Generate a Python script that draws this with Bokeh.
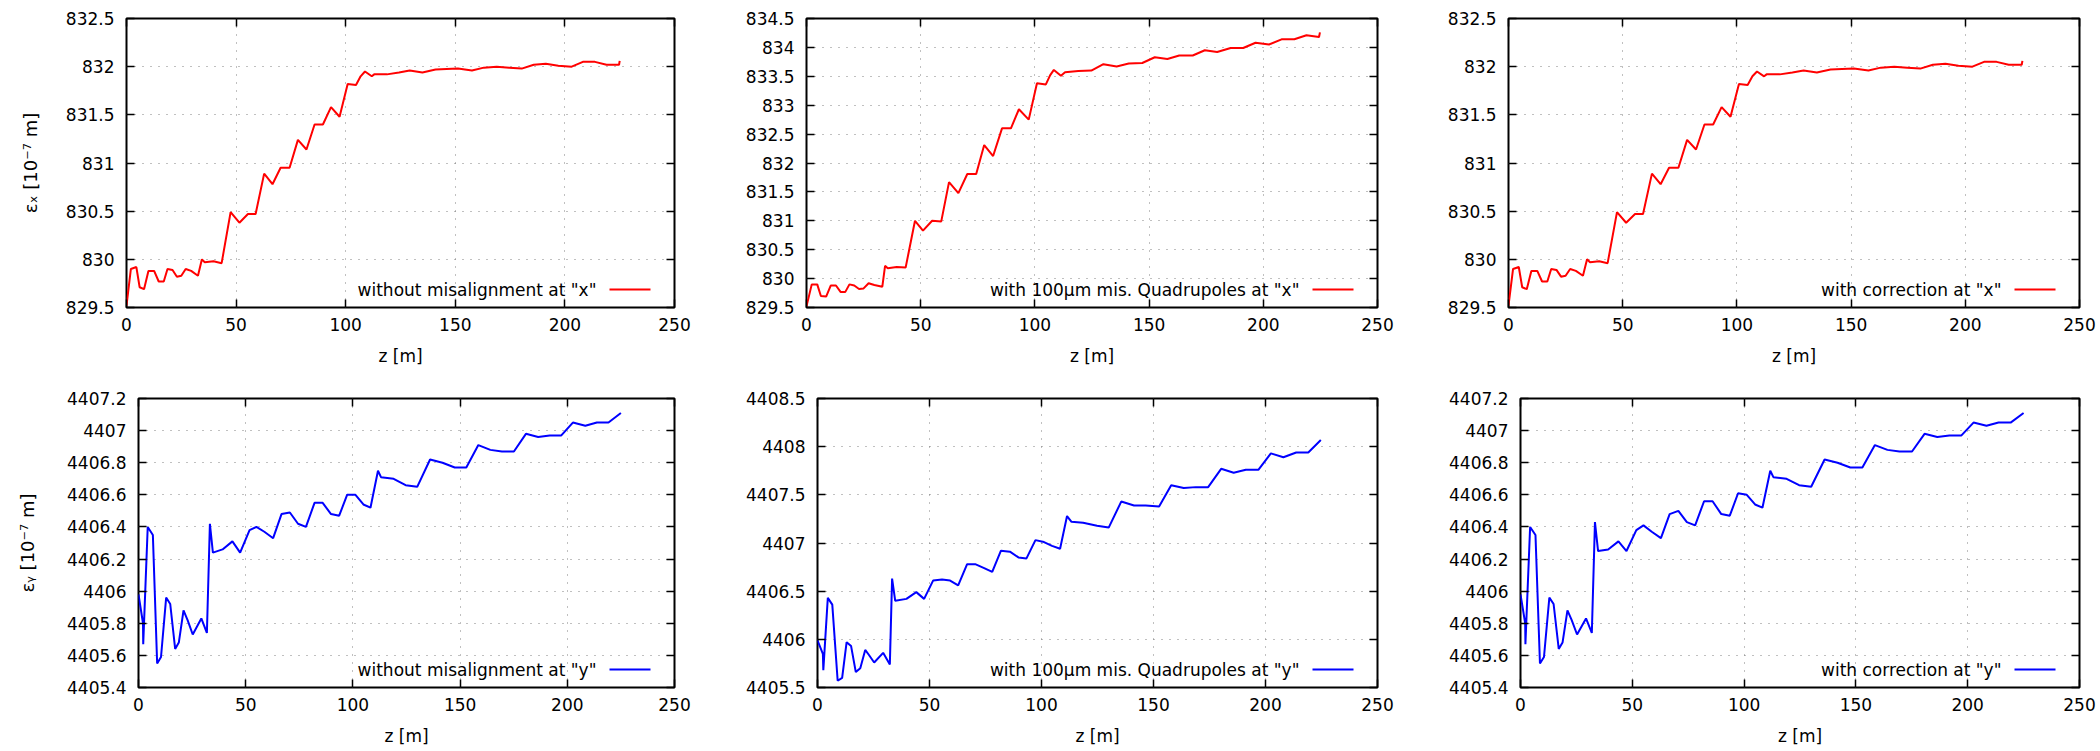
from bokeh.plotting import figure
from bokeh.layouts import row, column
from bokeh.models import (Range1d, LinearAxis, FixedTicker, CustomJSTickFormatter,
                          Label, Arrow)
from bokeh.embed import file_html
from bokeh.resources import INLINE

FONT = "DejaVu Sans"

# ---------------- ticks ----------------
x_ticks = [0, 50, 100, 150, 200, 250]
ex_ticks = [829.5, 830, 830.5, 831, 831.5, 832, 832.5]
ex_mis_ticks = [829.5, 830, 830.5, 831, 831.5, 832, 832.5, 833, 833.5, 834, 834.5]
ey_ticks = [4405.4, 4405.6, 4405.8, 4406, 4406.2, 4406.4, 4406.6, 4406.8, 4407, 4407.2]
ey_mis_ticks = [4405.5, 4406, 4406.5, 4407, 4407.5, 4408, 4408.5]

# ---------------- axis titles ----------------
x_title = "z [m]"
ylabel_ex = "\u03b5\u2093 [10\u207b\u2077 m]"
ylabel_ey = "\u03b5\u1d67 [10\u207b\u2077 m]"

# ---------------- legend texts ----------------
leg_ex_nomis = 'without misalignment at "x"'
leg_ex_mis = 'with 100\u03bcm mis. Quadrupoles at "x"'
leg_ex_corr = 'with correction at "x"'
leg_ey_nomis = 'without misalignment at "y"'
leg_ey_mis = 'with 100\u03bcm mis. Quadrupoles at "y"'
leg_ey_corr = 'with correction at "y"'

# ---------------- data: emittance x ----------------
z_ex = [0, 2, 4.5, 6, 8, 10, 12.6, 14.7, 17, 18.7, 21, 23, 25, 27, 29.5, 32.6, 34.4, 35.7,
        39.7, 43.4, 47.5, 51.5, 55.4, 58.9, 62.8, 66.6, 70.3, 74.4, 78.2, 82.1, 85.8, 89.6,
        93.3, 97.2, 100.9, 104.7, 106.8, 108.8, 111.9, 113, 118.8, 124.3, 129.2, 135, 141,
        146, 151.2, 157.6, 163, 168.9, 174.6, 180.3, 185.8, 191.3, 197, 203.1, 208.2, 213.7,
        219, 224.7, 225.0]
ex_nomis = [829.52, 829.9, 829.92, 829.71, 829.69, 829.88, 829.88, 829.77, 829.77, 829.9,
            829.89, 829.82, 829.83, 829.9, 829.88, 829.83, 830.0, 829.97, 829.98, 829.96,
            830.49, 830.38, 830.47, 830.47, 830.89, 830.78, 830.95, 830.95, 831.24, 831.14,
            831.4, 831.4, 831.58, 831.48, 831.82, 831.81, 831.9, 831.95, 831.9, 831.92,
            831.92, 831.94, 831.96, 831.94, 831.97, 831.975, 831.98, 831.96, 831.99, 832.0,
            831.99, 831.98, 832.02, 832.03, 832.01, 832.0, 832.05, 832.05, 832.02, 832.02,
            832.06]
ex_corr = [829.52, 829.9, 829.92, 829.71, 829.69, 829.88, 829.88, 829.77, 829.77, 829.9,
           829.89, 829.82, 829.83, 829.9, 829.88, 829.83, 830.0, 829.97, 829.98, 829.96,
           830.49, 830.38, 830.47, 830.47, 830.89, 830.78, 830.95, 830.95, 831.24, 831.14,
           831.4, 831.4, 831.58, 831.48, 831.82, 831.81, 831.9, 831.95, 831.9, 831.92,
           831.92, 831.94, 831.96, 831.94, 831.97, 831.975, 831.98, 831.96, 831.99, 832.0,
           831.99, 831.98, 832.02, 832.03, 832.01, 832.0, 832.05, 832.05, 832.02, 832.02,
           832.06]

z_ex_mis = [0, 2.3, 4.7, 6.3, 8.6, 10.6, 12.9, 14.9, 17, 18.8, 20.9, 23, 25, 27.2, 29.7,
            33.2, 34.4, 35.6, 39.5, 43.4, 47.5, 51, 55, 59, 62.4, 66.5, 70.4, 74.3, 77.8,
            81.7, 85.6, 89.5, 93, 97.3, 100.9, 104.8, 106.7, 108.3, 111.4, 113.2, 119, 124.7,
            130, 135.8, 141.1, 147, 152.5, 158, 163.2, 169.1, 174.4, 179.8, 185.7, 191.2,
            196.6, 202.5, 208, 213.6, 218.9, 224.4, 224.8]
ex_mis = [829.52, 829.9, 829.9, 829.7, 829.69, 829.88, 829.88, 829.77, 829.77, 829.9,
          829.88, 829.82, 829.83, 829.92, 829.89, 829.86, 830.22, 830.18, 830.2, 830.19,
          831.0, 830.83, 831.0, 830.99, 831.67, 831.48, 831.81, 831.81, 832.31, 832.12,
          832.6, 832.6, 832.93, 832.75, 833.38, 833.36, 833.52, 833.61, 833.51, 833.57,
          833.59, 833.6, 833.71, 833.67, 833.72, 833.73, 833.83, 833.8, 833.86, 833.86,
          833.95, 833.92, 833.99, 833.99, 834.08, 834.05, 834.14, 834.14, 834.21, 834.18,
          834.26]

# ---------------- data: emittance y ----------------
z_ey = [0, 2.1, 2.2, 4.3, 6.7, 8.7, 10.5, 12.9, 14.8, 17.1, 18.8, 21, 22.9, 25.3, 29.3, 31.9,
        33.3, 34.7, 39.2, 43.8, 47.4, 51.8, 55, 58.7, 62.8, 66.7, 70.6, 74.4, 78.1, 82.1,
        85.9, 89.8, 93.6, 97.3, 101.2, 104.9, 108.2, 111.7, 113.1, 119, 124.6, 130, 136,
        141.8, 147.5, 152.9, 158.5, 164.1, 169.5, 175.1, 180.7, 186.4, 191.8, 197.2, 202.6,
        208.4, 213.8, 219.2, 225]
ey_nomis = [4405.98, 4405.80, 4405.67, 4406.40, 4406.35, 4405.55, 4405.59, 4405.96, 4405.92,
            4405.64, 4405.68, 4405.88, 4405.82, 4405.73, 4405.83, 4405.74, 4406.42, 4406.24,
            4406.26, 4406.31, 4406.24, 4406.38, 4406.40, 4406.37, 4406.33, 4406.48, 4406.49,
            4406.42, 4406.40, 4406.55, 4406.55, 4406.48, 4406.47, 4406.60, 4406.60, 4406.54,
            4406.52, 4406.75, 4406.71, 4406.70, 4406.66, 4406.65, 4406.82, 4406.80, 4406.77,
            4406.77, 4406.91, 4406.88, 4406.87, 4406.87, 4406.98, 4406.96, 4406.97, 4406.97,
            4407.05, 4407.03, 4407.05, 4407.05, 4407.11]
ey_corr = [4405.98, 4405.80, 4405.67, 4406.40, 4406.35, 4405.55, 4405.59, 4405.96, 4405.92,
           4405.64, 4405.68, 4405.88, 4405.82, 4405.73, 4405.83, 4405.74, 4406.43, 4406.25,
           4406.26, 4406.31, 4406.25, 4406.38, 4406.41, 4406.37, 4406.33, 4406.48, 4406.50,
           4406.43, 4406.41, 4406.56, 4406.56, 4406.48, 4406.47, 4406.61, 4406.60, 4406.54,
           4406.52, 4406.75, 4406.71, 4406.70, 4406.66, 4406.65, 4406.82, 4406.80, 4406.77,
           4406.77, 4406.91, 4406.88, 4406.87, 4406.87, 4406.98, 4406.96, 4406.97, 4406.97,
           4407.05, 4407.03, 4407.05, 4407.05, 4407.11]

z_ey_mis = [0, 2.4, 2.6, 4.6, 6.6, 9, 11, 13, 15, 17.1, 19.1, 21.3, 22.9, 25.3, 29.3, 32.3,
            33.3, 34.7, 39.7, 44.1, 47.6, 51.6, 55.6, 59.2, 62.8, 66.8, 70.4, 74.4, 78, 81.9,
            85.9, 89.7, 93.3, 97.3, 101.1, 104.7, 108.3, 111.4, 113.4, 118.6, 124.8, 130,
            135.6, 141.3, 146.5, 152.5, 157.9, 163.5, 168.9, 174.4, 180.2, 185.8, 191.2,
            196.8, 202.4, 208, 213.7, 219.1, 224.7]
ey_mis = [4405.99, 4405.85, 4405.68, 4406.43, 4406.36, 4405.57, 4405.60, 4405.97, 4405.93,
          4405.66, 4405.70, 4405.89, 4405.84, 4405.76, 4405.86, 4405.74, 4406.63, 4406.40,
          4406.42, 4406.49, 4406.42, 4406.61, 4406.62, 4406.61, 4406.56, 4406.78, 4406.78,
          4406.74, 4406.70, 4406.92, 4406.91, 4406.85, 4406.84, 4407.03, 4407.01, 4406.97,
          4406.94, 4407.28, 4407.22, 4407.21, 4407.18, 4407.16, 4407.43, 4407.39, 4407.39,
          4407.38, 4407.60, 4407.57, 4407.58, 4407.58, 4407.77, 4407.73, 4407.76, 4407.76,
          4407.93, 4407.89, 4407.94, 4407.94, 4408.07]

RED = "#ff0000"
BLUE = "#0000ff"


def style_axis(ax, show_labels=True):
    ax.axis_line_color = None
    ax.major_tick_in = 8
    ax.major_tick_out = 0
    ax.major_tick_line_color = "black"
    ax.major_tick_line_width = 1.5
    ax.minor_tick_line_color = None
    if show_labels:
        ax.major_label_text_font = FONT
        ax.major_label_text_font_size = "17px"
        ax.major_label_text_color = "black"
    else:
        ax.formatter = CustomJSTickFormatter(code="return '';")
        ax.major_label_text_font_size = "0px"
        ax.major_label_text_color = None
        ax.major_label_standoff = 0


def make_panel(z, vals, color, yticks, legend_text, width, height, bl, br, bt, bb,
               ylabel=None, ylabel_standoff=22):
    p = figure(width=width, height=height, x_range=Range1d(0, 250),
               y_range=Range1d(yticks[0], yticks[-1]), output_backend="svg",
               toolbar_location=None, title=None,
               min_border_left=bl, min_border_right=br,
               min_border_top=bt, min_border_bottom=bb)
    p.background_fill_color = "white"
    p.border_fill_color = "white"
    p.outline_line_color = "black"
    p.outline_line_width = 2

    fmt = CustomJSTickFormatter(code="return String(Math.round(tick*10)/10);")
    xa = p.xaxis[0]
    ya = p.yaxis[0]
    xa.ticker = FixedTicker(ticks=x_ticks)
    ya.ticker = FixedTicker(ticks=yticks)
    xa.formatter = fmt
    ya.formatter = fmt
    style_axis(xa)
    style_axis(ya)
    xa.major_label_standoff = 10
    ya.major_label_standoff = 12
    xa.axis_label = x_title
    xa.axis_label_text_font = FONT
    xa.axis_label_text_font_size = "17px"
    xa.axis_label_text_font_style = "normal"
    xa.axis_label_text_color = "black"
    xa.axis_label_standoff = 12
    if ylabel is not None:
        ya.axis_label = ylabel
        ya.axis_label_text_font = FONT
        ya.axis_label_text_font_size = "18px"
        ya.axis_label_text_font_style = "normal"
        ya.axis_label_text_color = "black"
        ya.axis_label_standoff = ylabel_standoff

    top = LinearAxis(ticker=FixedTicker(ticks=x_ticks))
    style_axis(top, show_labels=False)
    p.add_layout(top, "above")
    right = LinearAxis(ticker=FixedTicker(ticks=yticks))
    style_axis(right, show_labels=False)
    p.add_layout(right, "right")

    p.xgrid.ticker = FixedTicker(ticks=x_ticks)
    p.ygrid.ticker = FixedTicker(ticks=yticks)
    for g in (p.xgrid, p.ygrid):
        g.grid_line_color = "#808080"
        g.grid_line_width = 1
        g.grid_line_dash = "1 7"

    p.line(z, vals, line_color=color, line_width=2)

    # gnuplot-style key: text first, then the line sample on its right
    fw = width - bl - br
    p.add_layout(Label(x=fw - 78, y=18, x_units="screen", y_units="screen",
                       text=legend_text, text_align="right", text_baseline="middle",
                       text_font=FONT, text_font_size="17px", text_color="black"))
    p.add_layout(Arrow(end=None, x_start=fw - 65, y_start=18, x_end=fw - 24, y_end=18,
                       start_units="screen", end_units="screen",
                       line_color=color, line_width=2))
    return p


# layout: widths 700, 700, 700 ; heights 375 + 376 (page has no margin)
p1 = make_panel(z_ex, ex_nomis, RED, ex_ticks, leg_ex_nomis, 700, 375, 126, 26, 18, 68,
                ylabel=ylabel_ex, ylabel_standoff=22)
p2 = make_panel(z_ex_mis, ex_mis, RED, ex_mis_ticks, leg_ex_mis, 700, 375, 106, 23, 18, 68)
p3 = make_panel(z_ex, ex_corr, RED, ex_ticks, leg_ex_corr, 700, 375, 108, 21, 18, 68)
p4 = make_panel(z_ey, ey_nomis, BLUE, ey_ticks, leg_ey_nomis, 700, 376, 138, 26, 23, 64,
                ylabel=ylabel_ey, ylabel_standoff=26)
p5 = make_panel(z_ey_mis, ey_mis, BLUE, ey_mis_ticks, leg_ey_mis, 700, 376, 117, 23, 23, 64)
p6 = make_panel(z_ey, ey_corr, BLUE, ey_ticks, leg_ey_corr, 700, 376, 120, 21, 23, 64)

layout = column(row(p1, p2, p3), row(p4, p5, p6))

open("out.html", "w").write(file_html(layout, INLINE))
